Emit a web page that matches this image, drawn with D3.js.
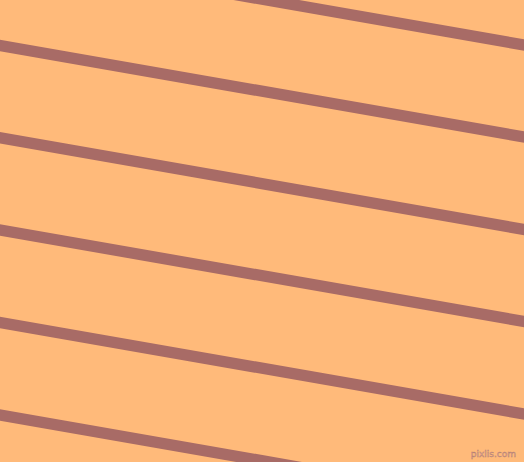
<!DOCTYPE html>
<html>
<head>
<meta charset="utf-8">
<script src="https://cdn.jsdelivr.net/npm/d3@7"></script>
<style>
  body { margin: 0; padding: 0; overflow: hidden; }
  .container { width: 524px; height: 462px; }
</style>
</head>
<body>
<div class="container"></div>
<script>
// stripe data: where each stripe crosses the left edge and the right edge
var leftY = [-46.5, 45.5, 137.7, 230, 322.5, 415];
var rightY = [45, 137, 229.5, 321.5, 414, 506.5];
var edges = [0, 524];

var w = 524, h = 462;

//Makes the stage
function makeStage(w, h) {
    var stage = d3.select(".container")
      .append("svg")
      .attr("width", w)
      .attr("height", h);
    return stage;
}

var stage = makeStage(w, h);

var x = d3.scaleLinear().domain([0, 524]).range([0, w]);
var y = d3.scaleLinear().domain([0, 462]).range([0, h]);

stage.append("rect")
  .attr("width", w)
  .attr("height", h)
  .attr("fill", "#FFBA7A");

var stripes = leftY.map(function (v, i) { return [[edges[0], v], [edges[1], rightY[i]]]; });

var line = d3.line()
  .x(function (d) { return x(d[0]); })
  .y(function (d) { return y(d[1]); });

// lengthen each stripe past the edges so the ends are clean
stage.selectAll("path.stripe")
  .data(stripes)
  .enter()
  .append("path")
  .attr("class", "stripe")
  .attr("d", function (s) {
      var k = (s[1][1] - s[0][1]) / (s[1][0] - s[0][0]);
      return line([[s[0][0] - 20, s[0][1] - 20 * k], [s[1][0] + 20, s[1][1] + 20 * k]]);
  })
  .attr("stroke", "#A86B66")
  .attr("stroke-width", 11.3)
  .attr("fill", "none");

stage.append("text")
  .attr("x", 516)
  .attr("y", 457)
  .attr("text-anchor", "end")
  .attr("font-family", "DejaVu Sans")
  .attr("font-size", 9)
  .attr("fill", "#E8B09A")
  .attr("stroke", "#B07A70")
  .attr("stroke-width", 0.4)
  .text("pixlis.com");
</script>
</body>
</html>
